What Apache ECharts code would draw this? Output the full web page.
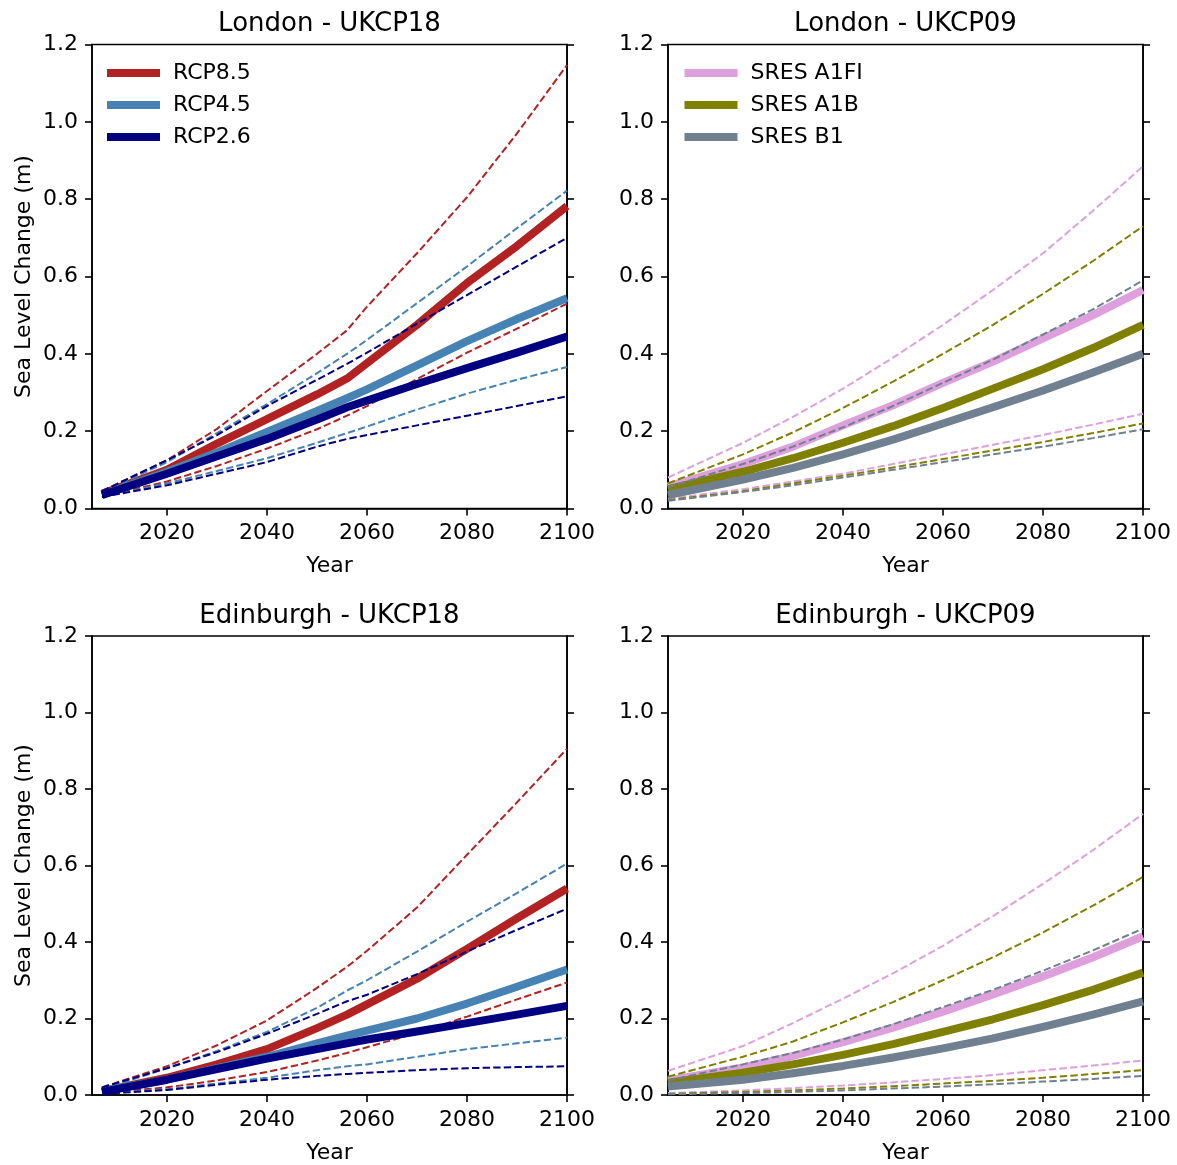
<!DOCTYPE html>
<html>
<head>
<meta charset="utf-8">
<script src="https://cdn.jsdelivr.net/npm/echarts@6/dist/echarts.min.js"></script>
<style>
html,body{margin:0;padding:0;background:#fff;}
#chart{width:1177px;height:1165px;}
</style>
</head>
<body>
<div id="chart"></div>
<script>
// ---------- data ----------
const panelTitles = ['London - UKCP18', 'London - UKCP09', 'Edinburgh - UKCP18', 'Edinburgh - UKCP09'];
const xTicks = [2020, 2040, 2060, 2080, 2100];
const yTicks = [0, 0.2, 0.4, 0.6, 0.8, 1.0, 1.2];

const yearsUK18 = [2007, 2020, 2030, 2040, 2050, 2056, 2060, 2070, 2080, 2090, 2100];
const yearsUK09 = [2005, 2020, 2030, 2040, 2050, 2060, 2070, 2080, 2090, 2100];

// London UKCP18
const lonRcp85   = [0.038, 0.10, 0.168, 0.231, 0.295, 0.336, 0.376, 0.475, 0.583, 0.679, 0.782];
const lonRcp85Hi = [0.045, 0.125, 0.206, 0.304, 0.40, 0.461, 0.522, 0.66, 0.805, 0.97, 1.147];
const lonRcp85Lo = [0.03, 0.07, 0.11, 0.155, 0.205, 0.24, 0.265, 0.335, 0.403, 0.465, 0.53];
const lonRcp45   = [0.035, 0.095, 0.145, 0.198, 0.252, 0.285, 0.308, 0.37, 0.433, 0.49, 0.544];
const lonRcp45Hi = [0.042, 0.12, 0.195, 0.27, 0.35, 0.40, 0.436, 0.531, 0.626, 0.725, 0.822];
const lonRcp45Lo = [0.03, 0.065, 0.097, 0.13, 0.17, 0.195, 0.212, 0.256, 0.297, 0.333, 0.366];
const lonRcp26   = [0.035, 0.09, 0.135, 0.18, 0.23, 0.262, 0.279, 0.322, 0.363, 0.403, 0.445];
const lonRcp26Hi = [0.045, 0.125, 0.19, 0.265, 0.333, 0.374, 0.403, 0.478, 0.552, 0.626, 0.70];
const lonRcp26Lo = [0.03, 0.06, 0.09, 0.12, 0.16, 0.18, 0.19, 0.215, 0.24, 0.265, 0.29];

// Edinburgh UKCP18
const edRcp85   = [0.01, 0.045, 0.08, 0.12, 0.175, 0.21, 0.237, 0.304, 0.382, 0.462, 0.54];
const edRcp85Hi = [0.02, 0.075, 0.13, 0.195, 0.28, 0.335, 0.377, 0.49, 0.628, 0.765, 0.905];
const edRcp85Lo = [0.005, 0.02, 0.038, 0.06, 0.09, 0.11, 0.125, 0.162, 0.205, 0.25, 0.294];
const edRcp45   = [0.01, 0.04, 0.07, 0.10, 0.135, 0.155, 0.168, 0.20, 0.239, 0.283, 0.328];
const edRcp45Hi = [0.015, 0.07, 0.115, 0.165, 0.228, 0.273, 0.30, 0.375, 0.453, 0.528, 0.605];
const edRcp45Lo = [0.003, 0.015, 0.03, 0.045, 0.065, 0.075, 0.08, 0.10, 0.12, 0.135, 0.15];
const edRcp26   = [0.008, 0.04, 0.068, 0.095, 0.12, 0.135, 0.145, 0.166, 0.188, 0.21, 0.233];
const edRcp26Hi = [0.02, 0.07, 0.112, 0.16, 0.212, 0.245, 0.262, 0.316, 0.375, 0.432, 0.487];
const edRcp26Lo = [0.003, 0.013, 0.027, 0.04, 0.05, 0.055, 0.058, 0.065, 0.07, 0.073, 0.075];

// London UKCP09
const lonA1FI   = [0.057, 0.115, 0.16, 0.215, 0.267, 0.325, 0.38, 0.44, 0.50, 0.565];
const lonA1FIHi = [0.08, 0.17, 0.237, 0.31, 0.39, 0.475, 0.565, 0.66, 0.77, 0.885];
const lonA1FILo = [0.025, 0.05, 0.07, 0.09, 0.115, 0.14, 0.165, 0.19, 0.217, 0.245];
const lonA1B    = [0.05, 0.095, 0.13, 0.17, 0.213, 0.26, 0.31, 0.36, 0.415, 0.475];
const lonA1BHi  = [0.065, 0.14, 0.197, 0.26, 0.328, 0.40, 0.475, 0.555, 0.64, 0.73];
const lonA1BLo  = [0.022, 0.045, 0.065, 0.085, 0.106, 0.128, 0.15, 0.172, 0.195, 0.22];
const lonB1     = [0.035, 0.075, 0.105, 0.14, 0.178, 0.22, 0.262, 0.305, 0.352, 0.40];
const lonB1Hi   = [0.055, 0.115, 0.16, 0.21, 0.265, 0.325, 0.385, 0.45, 0.515, 0.59];
const lonB1Lo   = [0.02, 0.043, 0.06, 0.08, 0.10, 0.12, 0.14, 0.16, 0.182, 0.205];

// Edinburgh UKCP09
const edA1FI   = [0.038, 0.072, 0.102, 0.138, 0.176, 0.218, 0.263, 0.31, 0.36, 0.415];
const edA1FIHi = [0.063, 0.128, 0.188, 0.252, 0.318, 0.39, 0.468, 0.552, 0.64, 0.735];
const edA1FILo = [0.005, 0.012, 0.018, 0.025, 0.033, 0.042, 0.052, 0.065, 0.077, 0.09];
const edA1B    = [0.032, 0.058, 0.08, 0.105, 0.133, 0.165, 0.198, 0.235, 0.275, 0.32];
const edA1BHi  = [0.048, 0.10, 0.14, 0.19, 0.243, 0.30, 0.36, 0.425, 0.495, 0.57];
const edA1BLo  = [0.003, 0.008, 0.012, 0.017, 0.023, 0.03, 0.037, 0.045, 0.055, 0.065];
const edB1     = [0.022, 0.04, 0.057, 0.076, 0.098, 0.122, 0.148, 0.178, 0.21, 0.245];
const edB1Hi   = [0.038, 0.08, 0.11, 0.145, 0.185, 0.23, 0.275, 0.325, 0.378, 0.435];
const edB1Lo   = [0.002, 0.005, 0.008, 0.012, 0.017, 0.022, 0.028, 0.035, 0.042, 0.05];

const rcpNames = ['RCP8.5', 'RCP4.5', 'RCP2.6'];
const sresNames = ['SRES A1FI', 'SRES A1B', 'SRES B1'];

// ---------- styling / layout ----------
const FONT = 'DejaVu Sans';
const FS = 22;
const rcpColors = ['#b22222', '#4682b4', '#000080'];
const sresColors = ['#dda0dd', '#808000', '#708090'];

const panels = [
  { years: yearsUK18, names: rcpNames, colors: rcpColors,
    sets: [[lonRcp85, lonRcp85Hi, lonRcp85Lo], [lonRcp45, lonRcp45Hi, lonRcp45Lo], [lonRcp26, lonRcp26Hi, lonRcp26Lo]] },
  { years: yearsUK09, names: sresNames, colors: sresColors,
    sets: [[lonA1FI, lonA1FIHi, lonA1FILo], [lonA1B, lonA1BHi, lonA1BLo], [lonB1, lonB1Hi, lonB1Lo]] },
  { years: yearsUK18, names: rcpNames, colors: rcpColors,
    sets: [[edRcp85, edRcp85Hi, edRcp85Lo], [edRcp45, edRcp45Hi, edRcp45Lo], [edRcp26, edRcp26Hi, edRcp26Lo]] },
  { years: yearsUK09, names: sresNames, colors: sresColors,
    sets: [[edA1FI, edA1FIHi, edA1FILo], [edA1B, edA1BHi, edA1BLo], [edB1, edB1Hi, edB1Lo]] }
];

const gridPos = [
  { left: 92, top: 44.5 }, { left: 668, top: 44.5 },
  { left: 92, top: 636 }, { left: 668, top: 636 }
];
const GW = 475, GH = 464;

const pairs = (xs, ys) => xs.map((x, i) => [x, ys[i]]);

const grids = gridPos.map(g => ({
  left: g.left, top: g.top, width: GW, height: GH,
  show: true, borderColor: '#000', borderWidth: 1.6, backgroundColor: 'transparent'
}));

const titles = gridPos.map((g, i) => ({
  text: panelTitles[i], left: g.left + GW / 2, top: g.top - 33, textAlign: 'center', padding: 0,
  textStyle: { fontFamily: FONT, fontSize: 26, fontWeight: 'normal', color: '#000' }
}));

const xAxes = gridPos.map((g, i) => ({
  type: 'value', gridIndex: i, min: 2005, max: 2100,
  name: 'Year', nameLocation: 'middle', nameGap: 47,
  nameTextStyle: { fontFamily: FONT, fontSize: FS, color: '#000' },
  axisLine: { show: true, onZero: false, lineStyle: { color: '#000', width: 1.6 } },
  axisTick: { show: true, length: 7, lineStyle: { color: '#000', width: 1.6 }, customValues: xTicks },
  axisLabel: { fontFamily: FONT, fontSize: FS, color: '#000', margin: 14, customValues: xTicks,
               formatter: v => String(v), hideOverlap: false, showMinLabel: true, showMaxLabel: true },
  splitLine: { show: false }
}));

const yBase = (i, right) => ({
  type: 'value', gridIndex: i, min: 0, max: 1.2, interval: 0.2,
  position: right ? 'right' : 'left',
  axisLine: { show: true, onZero: false, lineStyle: { color: '#000', width: 1.6 } },
  axisTick: { show: true, length: 7, lineStyle: { color: '#000', width: 1.6 } },
  axisLabel: { show: !right, fontFamily: FONT, fontSize: FS, color: '#000', margin: 14,
               formatter: v => v.toFixed(1) },
  splitLine: { show: false }
});
const yAxes = [];
gridPos.forEach((g, i) => {
  const a = yBase(i, false);
  if (i % 2 === 0) {
    a.name = 'Sea Level Change (m)';
    a.nameLocation = 'middle';
    a.nameGap = 57;
    a.nameRotate = 90;
    a.nameTextStyle = { fontFamily: FONT, fontSize: FS, color: '#000' };
  }
  yAxes.push(a);
});
gridPos.forEach((g, i) => yAxes.push(yBase(i, true)));

const series = [];
panels.forEach((p, gi) => {
  p.sets.forEach((set, si) => {
    const c = p.colors[si];
    series.push({
      type: 'line', name: p.names[si], xAxisIndex: gi, yAxisIndex: gi,
      data: pairs(p.years, set[0]), showSymbol: false, smooth: false,
      lineStyle: { color: c, width: 8, cap: 'butt', join: 'round' }, itemStyle: { color: c },
      z: 2, silent: true
    });
    ['hi', 'lo'].forEach((k, ki) => {
      series.push({
        type: 'line', name: p.names[si] + ' ' + k, xAxisIndex: gi, yAxisIndex: gi,
        data: pairs(p.years, set[ki + 1]), showSymbol: false, smooth: false,
        lineStyle: { color: c, width: 2, type: [7.4, 3.2] }, itemStyle: { color: c },
        z: 2, silent: true
      });
    });
  });
});

const legendBase = (names, left) => ({
  data: names, left: left, top: 62, orient: 'vertical', icon: 'rect', padding: 0,
  itemWidth: 53, itemHeight: 8, itemGap: 10, selectedMode: false,
  textStyle: { fontFamily: FONT, fontSize: FS, color: '#000', lineHeight: 22, padding: [0, 0, 0, 8] }
});

const chart = echarts.init(document.getElementById('chart'), null, { renderer: 'canvas' });
chart.setOption({
  backgroundColor: '#fff',
  animation: false,
  title: titles,
  grid: grids,
  xAxis: xAxes,
  yAxis: yAxes,
  legend: [legendBase(rcpNames, 107), legendBase(sresNames, 684.5)],
  series: series
});
</script>
</body>
</html>
